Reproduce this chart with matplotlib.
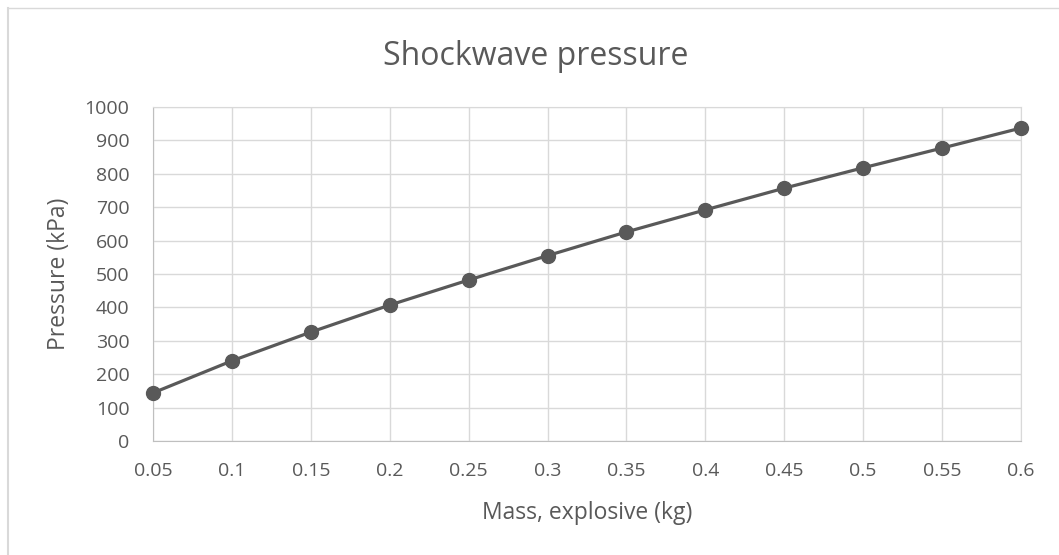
import numpy as np
import matplotlib.pyplot as plt
from matplotlib.lines import Line2D

mass = [0.05, 0.1, 0.15, 0.2, 0.25, 0.3, 0.35, 0.4, 0.45, 0.5, 0.55, 0.6]
pressure = [144, 240, 326, 407, 482, 555, 626, 692, 757, 818, 877, 937]
xticklabels = ['0.05', '0.1', '0.15', '0.2', '0.25', '0.3', '0.35', '0.4', '0.45', '0.5', '0.55', '0.6']

grey = '#595959'
plt.rcParams['font.family'] = ['Open Sans', 'DejaVu Sans']

W, H = 1059, 555
fig = plt.figure(figsize=(W / 100, H / 100), dpi=100)
ax = fig.add_axes([153 / W, 1 - 441 / H, 868 / W, 334 / H])

ax.plot(mass, pressure, '-o', color=grey, lw=2.3, ms=10, clip_on=False, zorder=3)

ax.set_xlim(0.05, 0.6)
ax.set_ylim(0, 1000)
ax.set_xticks(mass)
ax.set_xticklabels(xticklabels)
ax.set_yticks(np.arange(0, 1001, 100))
ax.grid(True, color='#d9d9d9', lw=1)
ax.set_axisbelow(True)
for s in ['top', 'right']:
    ax.spines[s].set_color('#d9d9d9')
for s in ['left', 'bottom']:
    ax.spines[s].set_color('#bfbfbf')
ax.tick_params(length=0, labelsize=14, colors=grey)
ax.tick_params(axis='x', pad=15)
ax.tick_params(axis='y', pad=17)

# title is centred on the whole chart, not the plot area
fig.text(535.5 / W, 1 - 65 / H, 'Shockwave pressure', fontsize=23, color=grey,
         ha='center', va='baseline')
ax.set_xlabel('Mass, explosive (kg)', fontsize=16.5, color=grey)
ax.set_ylabel('Pressure (kPa)', fontsize=16.5, color=grey)
ax.xaxis.set_label_coords(0.5, (441 - 513) / 334)
ax.xaxis.label.set_va('center')
ax.yaxis.set_label_coords((59 - 153) / 868, 0.5)
ax.yaxis.label.set_va('center')

# chart frame: only left and top edges fall inside the picture
fig.add_artist(Line2D([7.5 / W, 7.5 / W], [0, 1 - 8 / H], transform=fig.transFigure,
                      color='#d9d9d9', lw=1.5))
fig.add_artist(Line2D([7.5 / W, 1], [1 - 8 / H, 1 - 8 / H], transform=fig.transFigure,
                      color='#d9d9d9', lw=1))

fig.savefig('out.png', dpi=100)
